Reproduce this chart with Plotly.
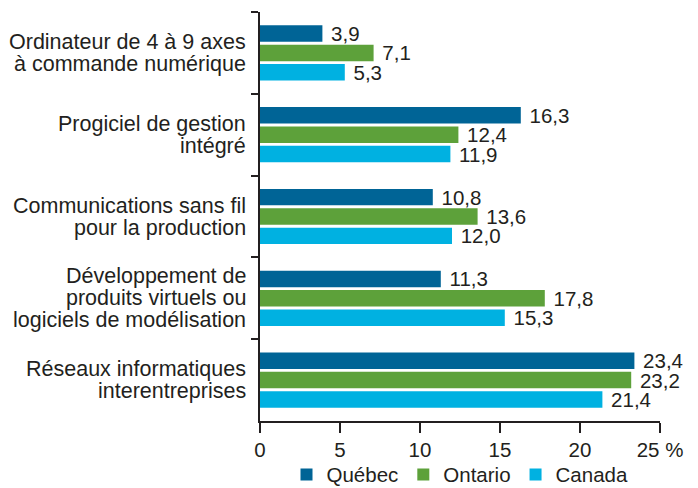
import plotly.graph_objects as go

categories = [
    "Ordinateur de 4 à 9 axes<br>à commande numérique",
    "Progiciel de gestion<br>intégré",
    "Communications sans fil<br>pour la production",
    "Développement de<br>produits virtuels ou<br>logiciels de modélisation",
    "Réseaux informatiques<br>interentreprises",
]
quebec = [3.9, 16.3, 10.8, 11.3, 23.4]
ontario = [7.1, 12.4, 13.6, 17.8, 23.2]
canada = [5.3, 11.9, 12.0, 15.3, 21.4]
x_ticks = [0, 5, 10, 15, 20, 25]
x_ticklabels = ["0", "5", "10", "15", "20", "25 %"]

series = [
    ("Québec", quebec, "#006496"),
    ("Ontario", ontario, "#5DA13A"),
    ("Canada", canada, "#00B1E1"),
]

FONT = "Liberation Sans"
TXT = "#231F20"
FS = 20.5
LABEL_FS = 21.5
LINE_H = 22

fig = go.Figure()
for name, vals, color in series:
    fig.add_trace(go.Bar(
        y=categories, x=vals, name=name, orientation="h",
        marker=dict(color=color, line=dict(width=0)),
        text=[" " + f"{v:.1f}".replace(".", ",") for v in vals],
        textposition="outside", constraintext="none",
        textfont=dict(family=FONT, size=FS, color=TXT),
        cliponaxis=False,
    ))

# category labels as right-aligned annotations (tight line spacing)
annotations = []
for cat in categories:
    lines = cat.split("<br>")
    n = len(lines)
    for i, line in enumerate(lines):
        annotations.append(dict(
            x=0, xref="paper", y=cat, yref="y",
            text=line, showarrow=False,
            xanchor="right", yanchor="middle", xshift=-12,
            yshift=((n - 1) / 2 - i) * LINE_H,
            font=dict(family=FONT, size=LABEL_FS, color=TXT),
        ))

# page body has an 8px default margin, so the figure is 8px smaller
fig.update_layout(
    template="none",
    width=690, height=480,
    margin=dict(l=252, r=38, t=4, b=67, autoexpand=False),
    barmode="group", bargap=0.29, bargroupgap=0.15,
    plot_bgcolor="white", paper_bgcolor="white",
    font=dict(family=FONT, size=FS, color=TXT),
    showlegend=True,
    legend=dict(orientation="h", x=0.5, xanchor="center", y=-0.131, yanchor="middle",
                font=dict(family=FONT, size=FS, color=TXT), traceorder="normal",
                itemwidth=30, bgcolor="rgba(0,0,0,0)"),
    annotations=annotations,
)
fig.update_yaxes(
    autorange="reversed", type="category",
    showline=True, linecolor=TXT, linewidth=1.5,
    ticks="outside", tickson="boundaries", ticklen=7, tickcolor=TXT, tickwidth=1.5,
    showgrid=False, showticklabels=False, zeroline=False,
)
fig.update_xaxes(
    range=[0, 25], tickvals=x_ticks, ticktext=x_ticklabels,
    showline=True, linecolor=TXT, linewidth=1.5,
    ticks="outside", ticklen=10, tickcolor=TXT, tickwidth=1.5,
    showgrid=False, zeroline=False, tickfont=dict(family=FONT, size=FS, color=TXT),
)
fig.write_html("out.html")
